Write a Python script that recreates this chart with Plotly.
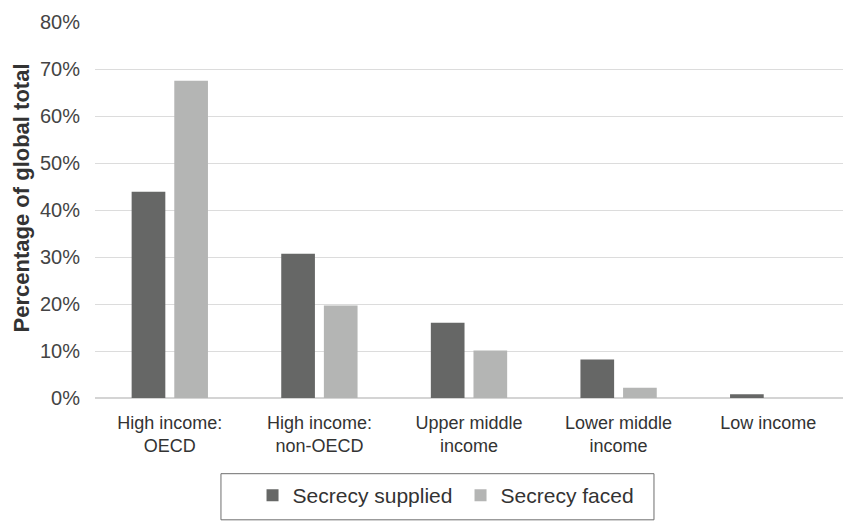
import plotly.graph_objects as go

categories = ["High income:<br>OECD", "High income:<br>non-OECD", "Upper middle<br>income",
              "Lower middle<br>income", "Low income"]
secrecy_supplied = [0.439, 0.307, 0.160, 0.082, 0.008]
secrecy_faced = [0.675, 0.197, 0.101, 0.022, 0.0]
y_ticks = [0, 0.1, 0.2, 0.3, 0.4, 0.5, 0.6, 0.7, 0.8]
y_title = "Percentage of global total"

fig = go.Figure()
fig.add_trace(go.Bar(name="Secrecy supplied", x=categories, y=secrecy_supplied,
                     marker=dict(color="#666766", line=dict(width=0))))
fig.add_trace(go.Bar(name="Secrecy faced", x=categories, y=secrecy_faced,
                     marker=dict(color="#b4b5b4", line=dict(width=0))))

fig.add_annotation(text="<b>" + y_title + "</b>", textangle=-90,
                   xref="paper", yref="paper", x=-0.097, y=0.532,
                   xanchor="center", yanchor="middle", showarrow=False,
                   font=dict(size=22, color="#333333"))

# legend frame
fig.add_shape(type="rect", xref="paper", yref="paper",
              x0=0.1684, x1=0.7473, y0=-0.324, y1=-0.2013,
              line=dict(color="#6e6e6e", width=1), fillcolor="rgba(0,0,0,0)")

fig.update_layout(
    width=843, height=529,
    margin=dict(l=95, r=0, t=22, b=131),
    plot_bgcolor="white", paper_bgcolor="white",
    barmode="group", bargap=0.43, bargroupgap=0.21,
    font=dict(family="Liberation Sans, Arial, sans-serif", color="#333333", size=18),
    xaxis=dict(tickfont=dict(size=18, color="#333333"), ticklabelstandoff=12,
               showline=False, ticks="", showgrid=False),
    yaxis=dict(range=[0, 0.8], tickvals=y_ticks, tickformat=".0%",
               gridcolor="#dcdcdc", gridwidth=1.4, zeroline=True, zerolinecolor="#d4d4d4", zerolinewidth=1.6,
               ticks="", ticklabelstandoff=14,
               tickfont=dict(size=20, color="#444444")),
    legend=dict(orientation="h", x=0.2106, xanchor="left", y=-0.205, yanchor="top",
                borderwidth=0, font=dict(size=21, color="#333333"),
                itemwidth=30, entrywidth=163, traceorder="normal", bgcolor="rgba(0,0,0,0)"),
)

fig.write_html("out.html", config={"displayModeBar": False},
               post_script="document.documentElement.style.overflow='hidden';document.body.style.margin='0px';document.body.style.overflow='hidden';")
